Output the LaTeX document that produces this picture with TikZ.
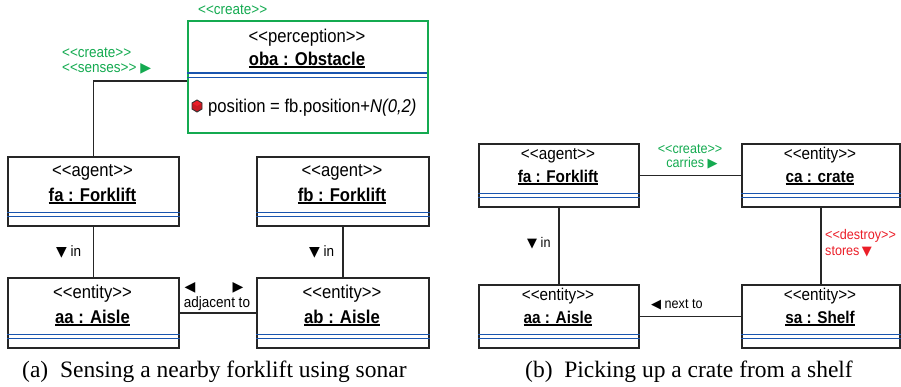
\documentclass[tikz,border=0pt]{standalone}
\usepackage{fontspec}
\setmainfont{Liberation Sans}[FakeStretch=0.9]
\newfontfamily\capfont{Liberation Serif}
\newfontfamily\symfont{DejaVu Sans}
\usetikzlibrary{calc}
\definecolor{umlgreen}{RGB}{20,170,80}
\definecolor{umlred}{RGB}{235,30,40}
\definecolor{umlblue}{RGB}{25,85,175}
\newcommand\stereo[1]{<\kern0pt<#1>\kern0pt>}
\newcommand\tri[2]{{\symfont\fontsize{#2}{#2}\selectfont #1}}
\newcommand\ulbox[1]{\setbox0\hbox{#1}\rlap{\rule[-2.6pt]{\wd0}{1.2pt}}\box0}
\newcommand\uobj[8]{%
  \node[objbox, minimum width=#4, minimum height=#5, anchor=north west] (#1) at (#2,#3) {};
  \draw[dl] ([yshift=14pt]#1.south west) -- ([yshift=14pt]#1.south east);
  \draw[dl] ([yshift=10pt]#1.south west) -- ([yshift=10pt]#1.south east);
  \pgfmathsetmacro\uX{#2+#4/2}%
  \pgfmathsetmacro\uT{#3+#5-24}%
  \pgfmathsetmacro\uS{\uT-1.35*#8}%
  \node[lbl, font=\fontsize{#8}{#8}\selectfont] (#1-s) at (\uX,\uS) {\stereo{#6}};
  \node[lbl, font=\fontsize{#8}{#8}\selectfont\bfseries] (#1-t) at (\uX,\uT) {\ulbox{#7}};
}
\begin{document}
\begin{tikzpicture}[x=1pt,y=-1pt,
  objbox/.style={draw=black!85, line width=1.6pt, fill=white, inner sep=0pt},
  dl/.style={umlblue, line width=1.5pt},
  conn/.style={draw=black!85, line width=1.4pt},
  lbl/.style={inner sep=0pt, anchor=base},
  lblw/.style={inner sep=0pt, anchor=base west}]
\useasboundingbox (0,0) rectangle (901,386);

% ---------- (a) ----------
\node[objbox, draw=umlgreen, minimum width=240, minimum height=112, anchor=north west] (oba) at (187,20) {};
\draw[dl] (187,73) -- (427,73);
\draw[dl] (187,77.5) -- (427,77.5);
\node[lbl, font=\fontsize{18.5}{18.5}\selectfont] (oba-s) at (307,42) {\stereo{perception}};
\node[lbl, font=\fontsize{18.5}{18.5}\selectfont\bfseries] (oba-t) at (307,65) {\ulbox{oba : Obstacle}};
\fill[umlred!85!black] (197,100) -- (202,103) -- (202,109) -- (197,112) -- (192,109) -- (192,103) -- cycle;
\fill[umlred] (192,103) -- (197,100) -- (202,103) -- (197,106) -- cycle;
\draw[black!80, line width=0.9pt] (197,100) -- (202,103) -- (202,109) -- (197,112) -- (192,109) -- (192,103) -- cycle;
\node[lblw, font=\fontsize{18.5}{18.5}\selectfont] (oba-a) at (208,112) {position = fb.position+\textit{N(0,2)}};
\node[lblw, font=\fontsize{15}{15}\selectfont, text=umlgreen] (oba-c) at (198,14) {\stereo{create}};

\uobj{fa1}{7}{156}{171}{69}{agent}{fa : Forklift}{18.5}
\uobj{fb1}{256}{156}{172}{69}{agent}{fb : Forklift}{18.5}
\uobj{aa1}{7}{277}{171}{70}{entity}{aa : Aisle}{18.5}
\uobj{ab1}{256}{277}{172}{70}{entity}{ab : Aisle}{18.5}

\draw[conn] ([yshift=-4pt]oba.west) -| (fa1.north);
\draw[conn] (fa1) -- (aa1);
\draw[conn] (fb1) -- (ab1);
\draw[conn] (aa1) -- (ab1);

\node[lblw, font=\fontsize{15}{15}\selectfont, text=umlgreen] (l1) at (62,57) {\stereo{create}};
\node[lblw, font=\fontsize{15}{15}\selectfont, text=umlgreen] (l2) at (62,72) {\stereo{senses} \tri{▶}{14}};
\node[lblw, font=\fontsize{15}{15}\selectfont] (l3) at (56,256) {\tri{▼}{14} in};
\node[lblw, font=\fontsize{15}{15}\selectfont] (l4) at (309,256) {\tri{▼}{14} in};
\node[lbl, font=\fontsize{15}{15}\selectfont] (l5) at (190,291) {\tri{◀}{14}};
\node[lbl, font=\fontsize{15}{15}\selectfont] (l6) at (238,291) {\tri{▶}{14}};
\node[lbl, font=\fontsize{15}{15}\selectfont] (l7) at (217,307) {adjacent to};

% ---------- (b) ----------
\uobj{fa2}{478}{143}{160}{63}{agent}{fa : Forklift}{17}
\uobj{ca2}{741}{143}{158}{63}{entity}{ca : crate}{17}
\uobj{aa2}{478}{284}{160}{63}{entity}{aa : Aisle}{17}
\uobj{sa2}{741}{284}{158}{63}{entity}{sa : Shelf}{17}

\draw[conn] (fa2) -- (ca2);
\draw[conn] (fa2) -- (aa2);
\draw[conn] (ca2) -- (sa2);
\draw[conn] (aa2) -- (sa2);

\node[lbl, font=\fontsize{14}{14}\selectfont, text=umlgreen] (m1) at (690,153) {\stereo{create}};
\node[lbl, font=\fontsize{14}{14}\selectfont, text=umlgreen] (m2) at (692,167) {carries \tri{▶}{13}};
\node[lblw, font=\fontsize{14}{14}\selectfont] (m3) at (527,247) {\tri{▼}{13} in};
\node[lblw, font=\fontsize{14}{14}\selectfont, text=umlred] (m4) at (825,239) {\stereo{destroy}};
\node[lblw, font=\fontsize{14}{14}\selectfont, text=umlred] (m5) at (825,255) {stores\,\tri{▼}{13}};
\node[lblw, font=\fontsize{14}{14}\selectfont] (m6) at (651,308) {\tri{◀}{13} next to};

% ---------- captions ----------
\node[lblw, font=\capfont\fontsize{23.5}{23.5}\selectfont] (capa) at (22,377) {(a)\hspace{0.5em}Sensing a nearby forklift using sonar};
\node[lblw, font=\capfont\fontsize{23.5}{23.5}\selectfont] (capb) at (525,377) {(b)\hspace{0.5em}Picking up a crate from a shelf};
\end{tikzpicture}
\end{document}
